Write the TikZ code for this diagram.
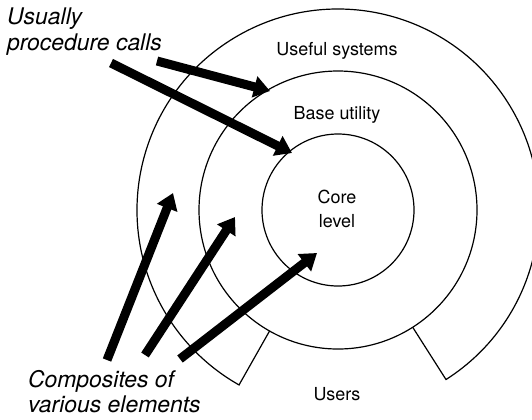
\documentclass[tikz,border=0pt]{standalone}
\usepackage{fontspec}
\setmainfont{TeX Gyre Heros}
\usetikzlibrary{arrows.meta,calc}
\begin{document}
\begin{tikzpicture}[x=1bp,y=-1bp,
  ring/.style={line width=1.2bp,draw=black},
  fat/.style={line width=9bp,line cap=butt,-{Triangle[length=16bp,width=21bp]}},
  lbl/.style={inner sep=0pt,font=\fontsize{18}{22}\selectfont},
  note/.style={inner sep=0pt,anchor=base west,font=\fontsize{23}{27}\selectfont\itshape}]
\useasboundingbox (0,0) rectangle (532,419);
\clip (0,0) rectangle (532,419);
\coordinate (c) at (338,210);
% rings
\draw[ring] (c) circle[radius=76];
\draw[ring] (c) circle[radius=139];
\draw[ring] ($(c)+(57.5:139)$) -- ($(c)+(57.5:201)$)
  arc[start angle=57.5,end angle=-240.5,radius=201]
  -- ($(c)+(119.5:139)$);
% ring labels
\node[lbl,anchor=base] (useful) at (337,55) {Useful systems};
\node[lbl,anchor=base] (base) at (337,119) {Base utility};
\node[lbl,anchor=base] (core1) at (337,203) {Core};
\node[lbl,anchor=base] (core2) at (337,227) {level};
\node[lbl,anchor=base] (users) at (337,400) {Users};
% notes
\node[note] (usu1) at (7,24) {Usually};
\node[note] (usu2) at (7,50) {procedure calls};
\node[note] (comp1) at (28,387) {Composites of};
\node[note] (comp2) at (28,412) {various elements};
% arrow ends
\coordinate (t1) at (157,61);
\coordinate (h1) at (270,91);
\coordinate (t2) at (111,63);
\coordinate (h2) at (292,153);
\coordinate (t3) at (107,360);
\coordinate (h3) at (173,193);
\coordinate (t4) at (145,355);
\coordinate (h4) at (235,217);
\coordinate (t5) at (180,359);
\coordinate (h5) at (317,253);
\draw[fat] (t1) -- (h1);
\draw[fat] (t2) -- (h2);
\draw[fat] (t3) -- (h3);
\draw[fat] (t4) -- (h4);
\draw[fat] (t5) -- (h5);
\end{tikzpicture}
\end{document}
